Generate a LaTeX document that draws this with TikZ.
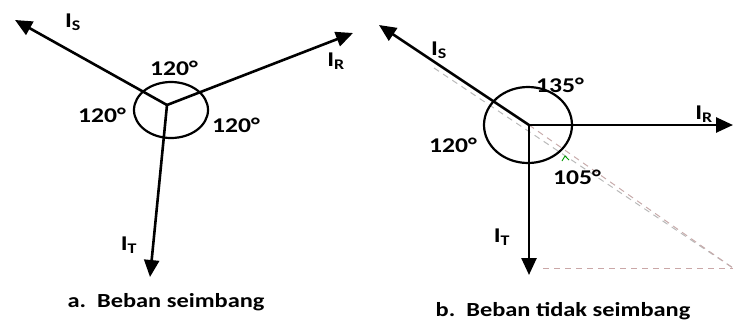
\documentclass[tikz,border=0pt]{standalone}
\usepackage{fontspec}
\setmainfont{Carlito}[FakeStretch=1.22]
\usetikzlibrary{arrows.meta}

\begin{document}
\begin{tikzpicture}[x=1pt, y=-1pt, phasor/.style={line width=2.6pt, -{Triangle[length=17pt, width=15pt]}}, ring/.style={line width=2.2pt}, lbl/.style={font=\bfseries\fontsize{21}{21}\selectfont, inner sep=0pt}, caption/.style={font=\bfseries\fontsize{20}{20}\selectfont, inner sep=0pt}, guide/.style={line width=1pt, dash pattern=on 6pt off 5pt}]
    \useasboundingbox (0,0) rectangle (733,322);
    % a. balanced load
    \coordinate (Oa) at (167,105);
    \coordinate (Sa) at (15,20);
    \coordinate (Ra) at (353,33);
    \coordinate (Ta) at (150,277);
    \draw[ring] (171,110) ellipse [x radius=37, y radius=28];
    \draw[phasor] (Oa) -- (Sa);
    \draw[phasor] (Oa) -- (Ra);
    \draw[phasor] (Oa) -- (Ta);
    \node[lbl] (isa) at (73,22) {I\textsubscript{S}};
    \node[lbl] (ira) at (336,61) {I\textsubscript{R}};
    \node[lbl] (ita) at (129,245) {I\textsubscript{T}};
    \node[lbl] (sra) at (174,68) {120°};
    \node[lbl] (sta) at (102,115) {120°};
    \node[lbl] (rta) at (236,125) {120°};
    \node[caption] (capa) at (166,302) {a.\ \ Beban seimbang};

    % b. unbalanced load
    \coordinate (Ob) at (529,125);
    \coordinate (Sb) at (379,25);
    \coordinate (Rb) at (733,125);
    \coordinate (Tb) at (529,275);
    \coordinate (Cb) at (733,268);
    \draw[guide, gray!55] (434,68) -- (Cb);
    \draw[guide, red!20!gray!55] (Ob) -- (Cb);
    \draw[guide, red!25!gray!55] (543,268) -- (Cb);
    \draw[ring] (528,125) ellipse [x radius=44, y radius=38];
    \draw[phasor] (Ob) -- (Sb);
    \draw[phasor] (Ob) -- (Rb);
    \draw[phasor] (Ob) -- (Tb);
    \draw[green!60!black, line width=0.9pt] (562,161) -- (565,156) -- (569,160);
    \node[lbl] (isb) at (439,50) {I\textsubscript{S}};
    \node[lbl] (irb) at (704,114) {I\textsubscript{R}};
    \node[lbl] (itb) at (502,237) {I\textsubscript{T}};
    \node[lbl] (srb) at (560,85) {135°};
    \node[lbl] (stb) at (453,145) {120°};
    \node[lbl] (rtb) at (577,177) {105°};
    \node[caption] (capb) at (563,311) {b.\ \ Beban tidak seimbang};
\end{tikzpicture}
\end{document}
